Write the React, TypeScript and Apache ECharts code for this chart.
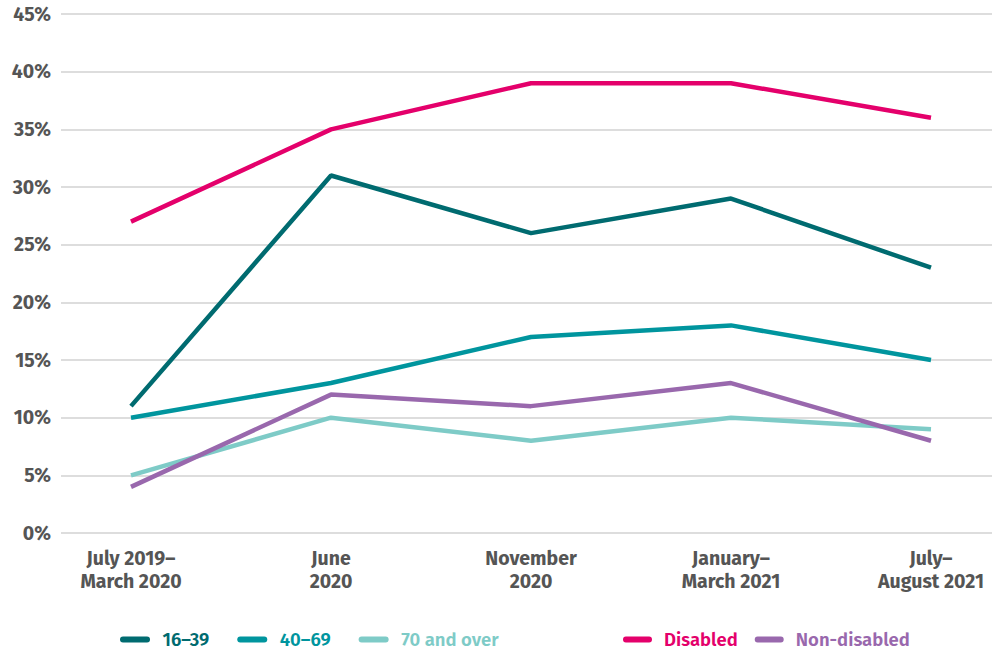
import React, { useEffect, useRef } from "react";
import * as echarts from "echarts";

const categories = ["July 2019–\nMarch 2020", "June\n2020", "November\n2020", "January–\nMarch 2021", "July–\nAugust 2021"];
const age16to39 = [11, 31, 26, 29, 23];
const age40to69 = [10, 13, 17, 18, 15];
const age70plus = [5, 10, 8, 10, 9];
const disabled = [27, 35, 39, 39, 36];
const nonDisabled = [4, 12, 11, 13, 8];
const yTicks = [0, 5, 10, 15, 20, 25, 30, 35, 40, 45];

const FONT = "'Fira Sans', 'Noto Sans', sans-serif";

const seriesDefs = [
  { name: "16–39", data: age16to39, color: "#006B70" },
  { name: "40–69", data: age40to69, color: "#00959E" },
  { name: "70 and over", data: age70plus, color: "#7ECBC7" },
  { name: "Disabled", data: disabled, color: "#E4006B" },
  { name: "Non-disabled", data: nonDisabled, color: "#9968AD" },
];

const capsule = "path://M3,0 L27,0 A3,3 0 0 1 27,6 L3,6 A3,3 0 0 1 3,0 Z";

export default function App() {
  const ref = useRef<HTMLDivElement>(null);
  useEffect(() => {
    if (!ref.current) return;
    const chart = echarts.init(ref.current, null, { renderer: "svg" });
    const legendItem = (s: any) => ({ name: s.name, textStyle: { color: s.color } });
    const legendText = { fontFamily: FONT, fontSize: 18.5, fontWeight: 600, padding: [0, 0, 0, 7] };
    chart.setOption({
      animation: false,
      grid: { left: 61, right: 0, top: 14, bottom: 119 },
      xAxis: {
        type: "value",
        min: -0.35,
        max: 4.305,
        splitLine: { show: false },
        axisLine: { show: false },
        axisTick: { show: false },
        axisLabel: {
          customValues: [0, 1, 2, 3, 4],
          formatter: (v: number) => categories[Math.round(v)] ?? "",
          fontFamily: FONT,
          fontWeight: "bold",
          fontSize: 19.5,
          lineHeight: 23,
          color: "#555555",
          margin: 14,
          showMinLabel: true,
          showMaxLabel: true,
        },
      },
      yAxis: {
        type: "value",
        min: 0,
        max: 45,
        interval: 5,
        axisLine: { show: false },
        axisTick: { show: false },
        splitLine: { lineStyle: { color: "#DDDDDD", width: 2 } },
        axisLabel: {
          formatter: (v: number) => (yTicks.includes(v) ? v + "%" : ""),
          fontFamily: FONT,
          fontWeight: "bold",
          fontSize: 19.5,
          color: "#555555",
          margin: 10,
        },
      },
      legend: [
        {
          left: 115,
          top: 625,
          itemWidth: 31,
          itemHeight: 6,
          itemGap: 28,
          icon: capsule,
          textStyle: legendText,
          data: seriesDefs.slice(0, 3).map(legendItem),
        },
        {
          left: 618,
          top: 625,
          itemWidth: 29,
          itemHeight: 6,
          itemGap: 17,
          icon: capsule,
          textStyle: legendText,
          data: seriesDefs.slice(3).map(legendItem),
        },
      ],
      series: seriesDefs.map((s) => ({
        name: s.name,
        type: "line",
        data: s.data.map((v, i) => [i, v]),
        symbol: "none",
        lineStyle: { color: s.color, width: 4.5 },
        itemStyle: { color: s.color },
        z: s.name === "Disabled" ? 3 : 2,
      })),
    });
    return () => chart.dispose();
  }, []);
  return <div ref={ref} style={{ width: 992, height: 652, position: "absolute", left: 0, top: 0 }} />;
}
